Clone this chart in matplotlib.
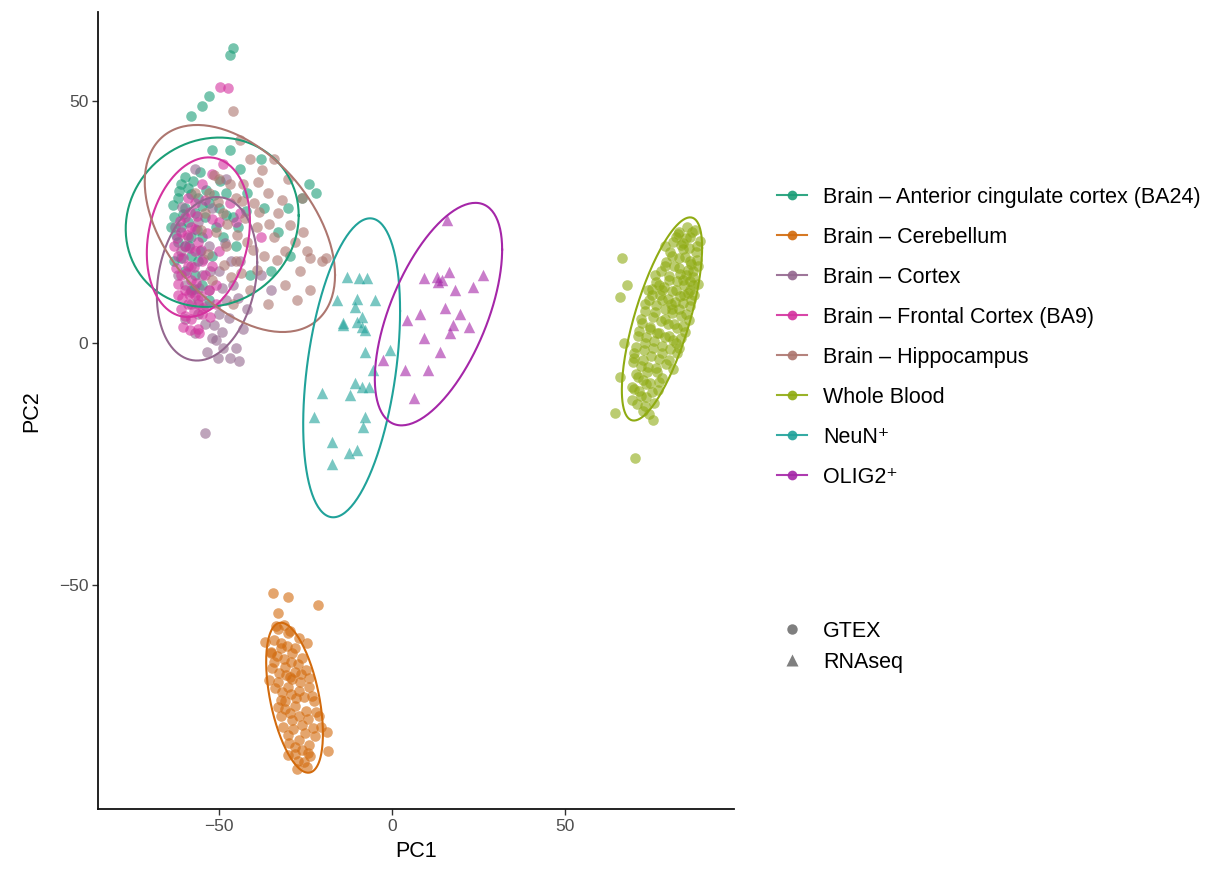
import numpy as np
import matplotlib
matplotlib.use("Agg")
import matplotlib.pyplot as plt
from matplotlib.lines import Line2D

plt.rcParams['font.family'] = ['Liberation Sans', 'DejaVu Sans']

# PCA scores per tissue group (PC1, PC2)
ant_x = [-62, -60, -63, -61, -59, -62, -60, -58, -57, -56, -59, -61, -58, -56, -55, -54, -53, -57, -55, -52,
         -51, -50, -48, -49, -46, -45, -63, -60, -58, -53, -46, -46.8, -53, -55, -58, -47, -52, -44, -38, -42,
         -37, -30, -26, -24, -22, -29.5, -33, -35, -41,
         -64, -63.2, -61.6, -59.9, -58.2, -60.4, -62.6, -60.9, -58.7, -56.3, -54.9, -57.6, -55.6, -53.7, -51.4,
         -49.7, -47.9, -44.4, -42.2, -55.4, -57.3]
ant_y = [30, 28, 26, 24, 25, 21, 20, 22, 27, 30, 32, 33, 18, 17, 22, 26, 29, 14, 12, 18,
         24, 28, 31, 22, 26, 20, 17, 15, 11, 9, 61, 59.5, 51, 49, 47, 40, 40, 36, 38, 31,
         28, 28, 30, 33, 31, 18, 23, 15, 14,
         24, 28.6, 31.4, 34.3, 30.8, 26.6, 22.3, 17.6, 20.1, 23.4, 28.3, 33.6, 35.4, 31.7, 30.6,
         33.6, 26.4, 24.1, 27.3, 19.1, 11.2]

cer_x = [-34.3, -30, -21.3, -32.9, -36.7, -24.7, -18.9, -18.4, -24.2, -33, -30, -27, -32, -29, -26, -34, -31, -28,
         -25, -33, -30, -27, -24, -31, -28, -25, -22.5, -32, -29, -26, -23, -30, -27, -24, -28, -25.5, -35,
         -29.5, -26.5, -21, -27.5,
         -33.5, -31.2, -29.4, -34.2, -32.1, -30.4, -28.1, -35.1, -33.2, -31.3, -29.2, -27.3, -34.6, -32.6, -30.6,
         -28.8, -26.2, -24.1, -33.8, -31.7, -29.3, -27.8, -25.6, -23.3, -33.1, -30.9, -29.4, -26.9, -24.3, -22.1,
         -31.4, -28.7, -25.1, -22.4, -29.9, -28.2, -26.1, -23.6, -27.1, -24.6, -30.2, -32.2, -35.6, -20.6]
cer_y = [-51.7, -52.4, -54.1, -55.8, -61.7, -62, -80.3, -84.4, -84.8, -59, -60, -61, -63, -64, -65, -66, -67, -68,
         -67.5, -70, -71, -72, -71, -74, -75, -76, -74, -77, -78, -79, -79.5, -81, -82, -83, -85, -86.5, -64,
         -69, -70, -77, -88,
         -58.5, -58.2, -59.6, -61.4, -61.9, -62.6, -63.1, -63.8, -64.6, -65.2, -65.9, -66.4, -67.1, -68.1, -68.6,
         -69.4, -68.3, -69.2, -71.2, -72.1, -72.6, -73.4, -73.2, -72.9, -75.2, -75.6, -76.4, -77.1, -77.8, -76.2,
         -79.3, -79.8, -80.6, -81.2, -82.6, -83.4, -84.1, -85.3, -86.4, -87.6, -85.1, -73.8, -69.6, -79.4]

ctx_x = [-60, -58, -56, -54, -57, -52, -51, -47, -43, -50, -48, -53, -55, -58, -61, -59, -56, -53, -50, -46,
         -44, -42, -35, -38, -54, -49, -45, -56, -60, -62, -52, -48, -57,
         -58.2, -55.9, -53.7, -51.6, -49.2, -47.1, -44.6, -52.5, -49.1, -46.6, -48.3, -54.6, -62.7, -60.8,
         -50.4, -53.6, -44.2]
ctx_y = [12, 8, 6, 4, 2, 1, 0.6, -3, 3, 6, 9, 11, 14, 16, 19, 22, 25, 20, 15, 12,
         17, 7, 11, 14, -18.6, -1, -1, 9, 5, 14, 28, 34, 36,
         10.5, 11.5, 7.6, 3.8, 2.3, 5.1, 9.4, 14.9, 11.4, 16.9, 20.6, 17.3, 24.1, 28.2,
         -3.1, -1.9, -3.7]

fro_x = [-61, -60, -62, -59, -61, -58, -60, -57, -59, -56, -58, -55, -62, -63, -60, -58, -57, -55, -56, -54,
         -53, -52, -50, -51, -57, -55, -52, -49, -50, -47, -45, -49.7, -47.4, -44, -38, -56, -61, -59,
         -62.5, -60.5, -58.5, -61.8, -59.6, -57.4, -60.8, -58.7, -56.6, -55.2, -57.2, -59.8, -54.6, -62.1,
         -59.3, -57.1, -55.3, -53.4, -61.4, -58.4, -56.4, -54.2, -52.1, -50.9, -52.7, -55.8, -58.3, -60.3]
fro_y = [23, 20, 18, 16, 14, 13, 11, 10, 8, 8, 5, 6, 10, 20, 26, 24, 19, 17, 21, 14,
         11, 16, 19, 8, 29, 33, 35, 37, 25, 29, 25, 53, 52.7, 27, 22, 3, 7, 30,
         15.5, 17.5, 19.6, 12.2, 14.4, 15.8, 9.3, 10.2, 12.4, 9.8, 6.6, 5.6, 7.3, 21.8,
         22.4, 23.6, 19.3, 22.8, 25.2, 27.1, 26.3, 29.6, 25.6, 12.1, 5.4, 2.1, 2.8, 3.4]

hip_x = [-46, -41, -37.7, -43, -47, -50, -53, -45, -40, -36, -33, -26, -25.7, -28, -19, -23.7, -26.6, -23.7, -27.5,
         -20.3, -24.7, -31, -34, -37, -39, -42, -45, -48, -51, -54, -57, -41, -36, -31, -46, -44, -34, -30,
         -49, -52,
         -50.4, -47.6, -44.9, -42.6, -40.3, -38.4, -35.7, -33.3, -29.4, -31.9, -38.9, -43.4, -46.6, -43.7,
         -39.1, -48.6, -53.3, -51.6, -55.1]
hip_y = [48, 38, 35.7, 33, 33, 34, 31, 30, 29, 31, 27, 30, 23, 21, 17.5, 17.6, 15, 11, 9,
         17, 19, 19, 22, 18, 24, 21, 17, 20, 23, 27, 31, 11, 8, 12, 8, 42, 38, 34,
         27, 13,
         29.1, 24.6, 22.4, 25.8, 19.3, 27.1, 24.6, 17.1, 24.4, 29.6, 33.4, 29.4, 13.6, 14.6,
         15.1, 16.1, 18.4, 34.8, 23.4]

wb_x = [66.4, 65.9, 64.5, 75.5, 70.2, 84.2, 68, 67, 66, 83, 86, 88, 84, 81, 86, 88.5, 79, 83, 85, 87, 80, 77,
        82, 84.5, 86.5, 75, 78, 80.5, 83, 85, 73, 76, 79, 81.5, 84, 72, 74.5, 77, 80, 82, 71, 73, 75.5, 78,
        80, 70, 72.5, 74, 76.5, 71, 73.5, 75, 72, 73, 70, 87, 84, 81, 78, 76, 79, 82, 74, 86, 83, 77, 69.5,
        85.2, 87.6, 82.7, 84.9, 86.8, 88.9, 81.3, 83.6, 85.9, 87.8, 80.4, 82.9, 84.7, 86.3, 88.2, 79.2, 81.6,
        83.1, 85.4, 87.1, 77.8, 79.9, 82.4, 84.3, 86.1, 88.4, 76.4, 78.6, 80.8, 83.2, 85.6, 87.3, 75.1, 77.3,
        79.6, 81.9, 84.1, 86.2, 74.2, 76.4, 78.8, 80.9, 83.4, 85.7, 73.1, 75.3, 77.7, 79.8, 82.2, 84.6, 72.3,
        74.4, 76.6, 78.9, 81.2, 83.5, 71.4, 73.5, 75.8, 77.9, 80.3, 82.4, 70.6, 72.8, 74.9, 77.1, 79.3, 81.3,
        69.8, 71.9, 73.8, 76.2, 78.1, 70.4, 72.6, 74.6, 76.8, 69.4, 71.3, 73.4, 75.6, 70.9, 72.4, 74.2, 69.2]
wb_y = [17.5, 9.6, -14.5, -15.9, -23.8, 20.7, 12, 0, -7, 23, 22, 20, 19.5, 18, 17, 16, 16, 15.5, 14, 12, 13, 12,
        11, 10, 9, 10, 9, 8, 7, 6, 8, 6.5, 5, 4, 3.5, 5, 3, 2, 1.5, 0, 1.5, 0, -1, -2,
        -3.5, -2, -3.5, -5, -6, -7, -8.5, -10, -11, -13, -9.5, 15, 13, 7, 11, 14, 20, 22, 11, 11, -1, -8, -4,
        24.1, 23.4, 22.6, 21.8, 22.9, 21.2, 20.9, 20.2, 19.7, 18.9, 18.8, 17.6, 17.9, 16.4, 17.2, 16.8, 15.9,
        14.3, 15.2, 13.6, 14.9, 13.8, 12.9, 12.1, 12.8, 12.3, 12.7, 11.6, 10.8, 9.7, 10.3, 9.9, 11.2, 9.9,
        9.1, 8.6, 8.2, 7.6, 8.9, 7.8, 7.1, 6.3, 5.6, 4.7, 6.7, 5.4, 4.6, 3.9, 3.1, 2.4, 4.1,
        3.4, 2.2, 1.3, 0.7, 1.1, 2.6, 1.2, 0.4, -0.6, -1.2, -2.1, -0.7, -1.4, -2.6, -3.2, -4.3, -5.4,
        -3.1, -4.8, -5.9, -5.1, -7.2, -6.4, -7.6, -8.2, -9.6, -9.1, -9.8, -11.2, -12.3, -12.6, -14.1, -14.6, -11.8]

neun_x = [-9.7, -7.3, -10.2, -10.7, -4.9, -14.1, -10.2, -8.8, -7.8, -8.8, -7.8, -0.6, -5.4, -10.7, -8.8, -6.8,
          -12.1, -20.3, -22.7, -7.8, -8.3, -17.4, -12.6, -10.2, -17.4, -13.1, -16, -14.1]
neun_y = [13.4, 13.4, 9.2, 7.5, 8.9, 3.7, 4.4, 5.4, 2.7, 3.4, -1.8, -1.4, -5.6, -8.3, -9, -9,
          -10.7, -10.4, -15.2, -15.2, -17.3, -20.4, -22.8, -22.1, -24.9, 13.7, 8.9, 4.1]

olig_x = [15.8, 9.1, 12.9, 14.4, 16.3, 26.4, 18.2, 23.5, 8.1, 4.2, 15.3, 19.7, 17.7, 22.1, 16.8, 9.1, 13.9,
          -2.5, 3.8, 10.5, 6.2, 13.3]
olig_y = [25.4, 13.4, 13.7, 13, 14.7, 14, 11, 11.6, 6.1, 4.8, 7.2, 6.1, 3.7, 3.4, 2, 1, -1.8,
          -3.5, -5.6, -5.6, -11.4, 12.6]

labels = ["Brain – Anterior cingulate cortex (BA24)", "Brain – Cerebellum", "Brain – Cortex",
          "Brain – Frontal Cortex (BA9)", "Brain – Hippocampus", "Whole Blood", "NeuN⁺", "OLIG2⁺"]
colors = ["#1B9E77", "#D26A0C", "#94678F", "#D4329F", "#AD766F", "#8FAB12", "#20A29A", "#A526A8"]

# 95% ellipse per group: centre, half extent along PC1 / PC2, correlation
ell_cx = [-52, -28.2, -53.5, -56, -44, 78, -11.7, 13.4]
ell_cy = [25, -73.3, 13.3, 21.9, 23.7, 5, -5.1, 6]
ell_rx = [25, 8.2, 14.5, 14.9, 27.5, 11.6, 14, 18.4]
ell_ry = [17.5, 15.5, 16.9, 16.5, 21.4, 21, 30.9, 23]
ell_rho = [0.08, -0.48, 0.2, 0.2, -0.45, 0.7, 0.38, 0.58]

groups = [(ant_x, ant_y, 'o'), (cer_x, cer_y, 'o'), (ctx_x, ctx_y, 'o'), (fro_x, fro_y, 'o'),
          (hip_x, hip_y, 'o'), (wb_x, wb_y, 'o'), (neun_x, neun_y, '^'), (olig_x, olig_y, '^')]

fig = plt.figure(figsize=(12.3, 8.76), dpi=100)
ax = fig.add_axes([0.0797, 0.0765, 0.5170, 0.9095])

for (gx, gy, m), c in zip(groups, colors):
    ax.scatter(gx, gy, s=58 if m == 'o' else 68, marker=m, color=c, alpha=0.6, linewidths=0)

t = np.linspace(0, 2 * np.pi, 200)
for cx, cy, rx, ry, r, c in zip(ell_cx, ell_cy, ell_rx, ell_ry, ell_rho, colors):
    ex = cx + rx * np.cos(t)
    ey = cy + ry * (r * np.cos(t) + np.sqrt(1 - r ** 2) * np.sin(t))
    ax.plot(ex, ey, color=c, lw=1.5)

ax.set_xlim(-85, 98.8)
ax.set_ylim(-96.3, 68.4)
ax.set_xticks([-50, 0, 50])
ax.set_yticks([-50, 0, 50])
for s in ['top', 'right']:
    ax.spines[s].set_visible(False)
for s in ['left', 'bottom']:
    ax.spines[s].set_linewidth(1.3)
    ax.spines[s].set_color('#111111')
ax.tick_params(length=4, width=1, color='#333333', labelsize=12.5, labelcolor='#4D4D4D', pad=3)
ax.set_xlabel("PC1", fontsize=15.5, labelpad=5)
ax.set_ylabel("PC2", fontsize=15.5, labelpad=12)

handles = [Line2D([0], [0], color=c, lw=1.5, marker='o', ms=7, mfc=c, mec='none', alpha=0.9)
           for c in colors]
leg1 = ax.legend(handles, labels, loc='upper left', bbox_to_anchor=(777 / 1230, 1 - 187 / 876),
                 bbox_transform=fig.transFigure, frameon=False, fontsize=15.5, handlelength=1.4,
                 handletextpad=0.75, labelspacing=0.88, borderpad=0, borderaxespad=0)
ax.add_artist(leg1)

shape_handles = [Line2D([0], [0], ls='none', marker='o', ms=7.5, color='#7F7F7F', mec='none'),
                 Line2D([0], [0], ls='none', marker='^', ms=8, color='#7F7F7F', mec='none')]
ax.legend(shape_handles, ["GTEX", "RNAseq"], loc='upper left',
          bbox_to_anchor=(777 / 1230, 1 - 621 / 876), bbox_transform=fig.transFigure,
          frameon=False, fontsize=15.5, handlelength=1.4, handletextpad=0.75,
          labelspacing=0.45, borderpad=0, borderaxespad=0)

fig.savefig("out.png", dpi=100)
